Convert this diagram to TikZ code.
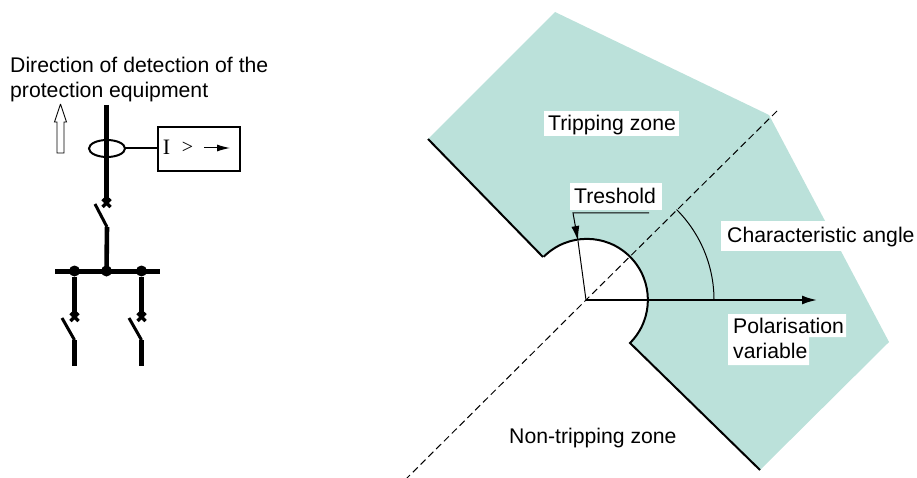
\documentclass[tikz,border=0pt]{standalone}
\usepackage{fontspec}
\setmainfont{Liberation Sans}
\newfontfamily\relayfont{Liberation Serif}
\usetikzlibrary{arrows.meta,shapes.geometric,calc}
\definecolor{zone}{RGB}{187,225,218}
\tikzset{
 x=1pt,y=-1pt,
 lbl/.style={font=\fontsize{21.2}{25.5}\selectfont,inner sep=0pt,text=black,align=left},
 bus/.style={line width=4.8pt,black},
 blade/.style={line width=3pt,black},
 feeder/.style={line width=4.6pt,black},
 tie/.style={line width=2pt,black},
 zoneedge/.style={line width=2pt,black},
 fine/.style={line width=1pt,black},
 bolt/.style={circle,fill=black,inner sep=0pt,minimum size=11pt},
 relaytext/.style={font=\relayfont\fontsize{20}{20}\selectfont,inner sep=0pt,text=black},
}
\newcommand{\crossat}[1]{%
 \draw[line width=3.4pt,black] ($(#1)+(-4,-4)$) -- ($(#1)+(4,4)$) ($(#1)+(-4,4)$) -- ($(#1)+(4,-4)$);}
\begin{document}
\begin{tikzpicture}
\useasboundingbox (0,0) rectangle (917,478);
% zone
\coordinate (c) at (586,300);
\coordinate (pa) at (543,257);
\coordinate (pb) at (630,343);
\coordinate (pc) at (760,470);
\coordinate (pd) at (889,342);
\coordinate (pe) at (769,115);
\coordinate (pf) at (555,12);
\coordinate (pg) at (428,139);
\fill[zone] (pa) -- (pg) -- (pf) -- (pe) -- (pd) -- (pc) -- (pb) arc[start angle=45,end angle=-135,radius=61] -- cycle;
\draw[zoneedge] (pg) -- (pa) (pc) -- (pb) arc[start angle=45,end angle=-135,radius=61];
% dashed axis
\coordinate (d1) at (777,111);
\coordinate (d2) at (405,480);
\draw[fine,dash pattern=on 7pt off 4pt] (d1) -- (c) -- (d2);
% polarisation arrow
\coordinate (pv) at (817,300);
\draw[line width=2pt,-{Latex[length=15pt,width=9pt]}] (c) -- (pv);
% angle arc
\coordinate (a1) at (714,300);
\draw[fine] (a1) arc[start angle=0,end angle=-45,radius=128];
% threshold
\coordinate (t1) at (649,213);
\coordinate (t2) at (573,213);
\coordinate (t3) at (578,241);
\draw[fine] (c) -- (t3);
\draw[fine,-{Latex[length=15pt,width=8pt]}] (t1) -- (t2) -- (t3);
% label backgrounds
\fill[white] (544,111) rectangle (679,136);
\fill[white] (570,183) rectangle (662,210.5);
\fill[white] (721,221) rectangle (917,251);
\fill[white] (728,314) -- (846,314) -- (846,337) -- (809,337) -- (809,365) -- (728,365) -- cycle;
% labels
\node[lbl,anchor=base west] (tz) at (548,131) {Tripping zone};
\node[lbl,anchor=base west] (th) at (574,204) {Treshold};
\node[lbl,anchor=base west] (ca) at (727,242) {Characteristic angle};
\node[lbl,anchor=north west] (pol) at (733,317.5) {Polarisation\\variable};
\node[lbl,anchor=base west] (nt) at (509,443) {Non-tripping zone};
\node[lbl,anchor=north west] (dir) at (10,56.5) {Direction of detection of the\\protection equipment};
% hollow arrow
\draw[black,fill=white,line width=0.8pt,miter limit=2] (60.5,104) -- (66.5,122) -- (64,122) -- (64,153) -- (57,153) -- (57,122) -- (54.5,122) -- cycle;
% left single-line
\coordinate (l1) at (106.5,105);
\coordinate (l2) at (106.5,203);
\coordinate (l3) at (95,204);
\coordinate (l4) at (107,227);
\coordinate (l5) at (106.5,271);
\draw[bus] (l1) -- (l2);
\draw[blade] (l3) -- (l4);
\draw[feeder] (l4) -- (l5);
\crossat{l2}
\coordinate (b1) at (55,271);
\coordinate (b2) at (160,271);
\draw[line width=5pt] (b1) -- (b2);
\node[bolt] (n1) at (74.5,271) {};
\node[bolt] (n2) at (106.5,271) {};
\node[bolt] (n3) at (141.5,271) {};
\coordinate (x1) at (74.5,317);
\coordinate (x2) at (141.5,317);
\coordinate (e1) at (74.5,340);
\coordinate (e2) at (141.5,340);
\coordinate (f1) at (74.5,366);
\coordinate (f2) at (141.5,366);
\coordinate (g1) at (62,318);
\coordinate (g2) at (129,318);
\draw[feeder] (n1) -- (x1) (n3) -- (x2) (e1) -- (f1) (e2) -- (f2);
\draw[blade] (g1) -- (e1) (g2) -- (e2);
\crossat{x1}
\crossat{x2}
% ct & relay
\node[ellipse,draw=black,line width=2pt,minimum width=36pt,minimum height=17pt,inner sep=0pt,outer sep=0pt] (ct) at (107,148.5) {};
\node[rectangle,draw=black,line width=2pt,minimum width=82pt,minimum height=44pt,inner sep=0pt,outer sep=0pt] (relay) at (199,149) {};
\draw[tie] (ct) -- (relay.west |- ct);
\node[relaytext,font=\relayfont\fontsize{22}{22}\selectfont] (rI) at (166.5,147) {I};
\node[relaytext] (rgt) at (187.5,148) {>};
\coordinate (ra) at (204,148);
\coordinate (rb) at (230,148);
\draw[line width=1pt,-{Latex[length=13pt,width=7pt]}] (ra) -- (rb);
\end{tikzpicture}
\end{document}
